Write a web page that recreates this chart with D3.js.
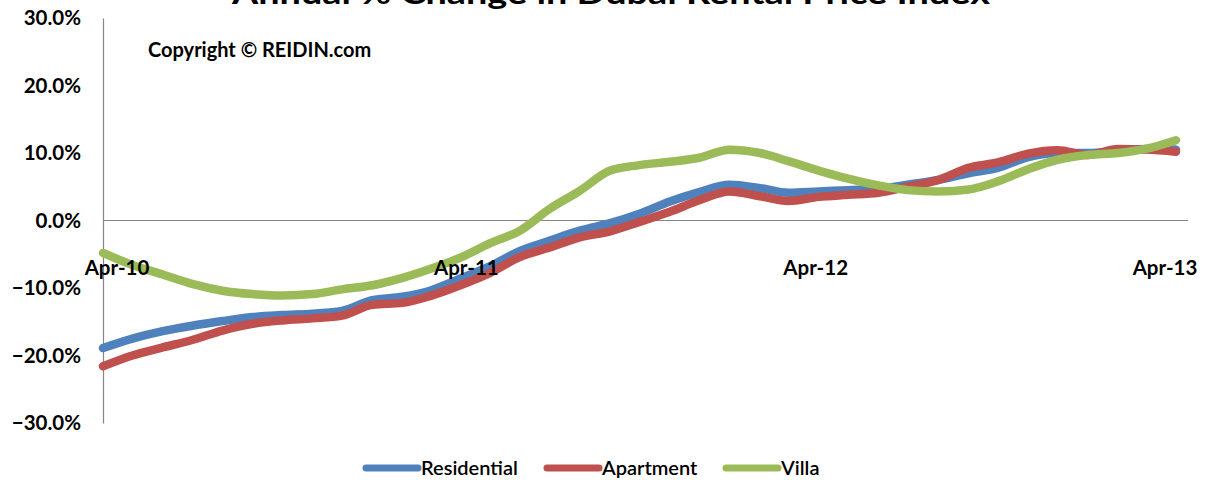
<!DOCTYPE html>
<html><head><meta charset="utf-8">
<script src="https://cdn.jsdelivr.net/npm/d3@7"></script>
<style>body{margin:0;background:#fff}svg{display:block}</style>
</head><body>
<svg id="c" width="1207" height="487"></svg>
<script>
const months = d3.range(37).map(i => new Date(2010, 3 + i, 1));
const residential = [-18.9,-17.5,-16.4,-15.6,-14.9,-14.3,-14.0,-13.8,-13.4,-11.8,-11.3,-10.4,-8.6,-6.8,-4.5,-3.0,-1.5,-0.4,1.0,2.8,4.2,5.3,4.8,4.1,4.3,4.5,4.7,5.3,6.0,7.0,7.8,9.4,10.0,10.0,10.3,10.6,10.5];
const apartment = [-21.6,-20.0,-18.8,-17.7,-16.3,-15.3,-14.8,-14.5,-14.1,-12.5,-12.2,-11.2,-9.6,-7.8,-5.4,-4.0,-2.5,-1.6,-0.2,1.3,3.0,4.3,3.6,2.9,3.5,3.8,4.1,5.0,6.0,7.8,8.6,9.9,10.4,9.7,10.6,10.5,10.2];
const villa = [-4.8,-6.6,-8.0,-9.4,-10.4,-10.9,-11.1,-10.9,-10.2,-9.6,-8.5,-7.2,-5.5,-3.4,-1.5,1.7,4.4,7.4,8.2,8.7,9.3,10.5,10.0,8.8,7.4,6.2,5.2,4.5,4.3,4.6,5.8,7.6,9.0,9.7,10.0,10.6,11.9];
const seriesNames = ["Residential","Apartment","Villa"];
const seriesColors = ["#4F81BD","#C0504D","#9BBB59"];
const yTicks = [30,20,10,0,-10,-20,-30];
const xTickLabels = ["Apr-10","Apr-11","Apr-12","Apr-13"];
const titleText = "Annual % Change in Dubai Rental Price Index";
const copyrightText = "Copyright \u00A9 REIDIN.com";

const svg = d3.select("#c");
const font = "Lato, 'Open Sans', sans-serif";
const x = d3.scaleTime().domain([months[0], months[36]]).range([103, 1176]);
const y = d3.scaleLinear().domain([-30, 30]).range([423, 18]);

// title (clipped at top, as in the reference)
svg.append("text").attr("x", 611).attr("y", 4).attr("text-anchor","middle")
  .attr("font-family", font).attr("font-weight","bold").attr("font-size", 30)
  .attr("textLength", 758).attr("lengthAdjust","spacingAndGlyphs")
  .attr("fill","#000").text(titleText);

// y axis
const yAxis = d3.axisLeft(y).tickValues(yTicks).tickSize(0).tickPadding(22)
  .tickFormat(d => d3.format(".1f")(d) + "%");
const gy = svg.append("g").attr("transform","translate(103,0)").call(yAxis);
gy.select(".domain").attr("stroke","#868686").attr("stroke-width",1.2);
gy.selectAll("text").attr("font-family", font).attr("font-weight","bold")
  .attr("font-size", 20.5).attr("fill","#000");

// zero line (category axis)
svg.append("line").attr("x1",103).attr("x2",1188).attr("y1",y(0)).attr("y2",y(0))
  .attr("stroke","#868686").attr("stroke-width",1.2);

// copyright
svg.append("text").attr("x",148).attr("y",57).attr("font-family",font)
  .attr("font-weight","bold").attr("font-size",20).attr("fill","#000").text(copyrightText);

// lines
const data = [residential, apartment, villa];
const line = d3.line().x((d,i)=>x(months[i])).y(d=>y(d)).curve(d3.curveMonotoneX);
svg.append("g").selectAll("path").data(data).join("path")
  .attr("d", line).attr("fill","none")
  .attr("stroke",(d,i)=>seriesColors[i]).attr("stroke-width",8.5)
  .attr("stroke-linejoin","round").attr("stroke-linecap","round");

// x labels (drawn over the lines)
const labelScale = d3.scaleLinear().domain([0,3]).range([117,1165]);
svg.append("g").selectAll("text").data(xTickLabels).join("text")
  .attr("x",(d,i)=>labelScale(i)).attr("y", y(0)+54).attr("text-anchor","middle")
  .attr("font-family", font).attr("font-weight","bold").attr("font-size",20.5)
  .attr("fill","#000").text(d=>d);

// legend
const legendX = [366, 547, 726];
const lg = svg.append("g").selectAll("g").data(seriesNames).join("g")
  .attr("transform",(d,i)=>`translate(${legendX[i]},475)`);
lg.append("line").attr("x1",0).attr("x2",52).attr("y1",-7).attr("y2",-7)
  .attr("stroke",(d,i)=>seriesColors[i]).attr("stroke-width",7).attr("stroke-linecap","round");
lg.append("text").attr("x",55).attr("y",0).attr("font-family",font)
  .attr("font-size",20).attr("font-weight",600).attr("fill","#000").text(d=>d);
</script>
</body></html>
